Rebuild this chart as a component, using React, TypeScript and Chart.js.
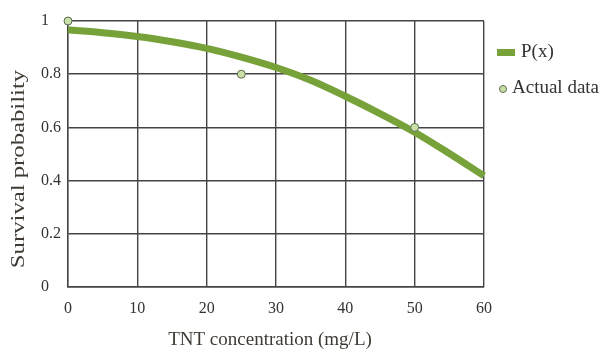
import React, { useEffect, useRef } from "react";
import { Chart, registerables } from "chart.js";

Chart.register(...registerables);

const curveX = [0, 5, 10, 15, 20, 25, 30, 35, 40, 45, 50, 55, 60];
const curveP = [0.967, 0.956, 0.942, 0.922, 0.897, 0.864, 0.825, 0.777, 0.717, 0.652, 0.582, 0.502, 0.418];
const actualX = [0, 25, 50];
const actualY = [1, 0.8, 0.6];
const xTicks = [0, 10, 20, 30, 40, 50, 60];
const yTicks = [0, 0.2, 0.4, 0.6, 0.8, 1];

const GREEN = "#77a23a";
const FONT = "'Liberation Serif', 'Times New Roman', serif";

const legendAndTitlePlugin = {
  id: "customLegend",
  afterDraw(chart: any) {
    const ctx = chart.ctx;
    ctx.save();
    // Legend
    ctx.fillStyle = GREEN;
    ctx.fillRect(497, 49, 18, 7);
    ctx.font = `19px ${FONT}`;
    ctx.fillStyle = "#333";
    ctx.textBaseline = "middle";
    ctx.textAlign = "left";
    ctx.fillText("P(x)", 521, 52);
    ctx.beginPath();
    ctx.arc(503, 89, 3.5, 0, Math.PI * 2);
    ctx.fillStyle = "#c8dfa8";
    ctx.fill();
    ctx.lineWidth = 1;
    ctx.strokeStyle = "#5d6b50";
    ctx.stroke();
    ctx.fillStyle = "#333";
    ctx.fillText("Actual data", 512, 88);
    // X title
    ctx.textAlign = "center";
    ctx.fillStyle = "#3f3a34";
    ctx.fillText("TNT concentration (mg/L)", 270, 340);
    // Y title
    ctx.translate(19, 169);
    ctx.rotate(-Math.PI / 2);
    ctx.scale(1.3, 1);
    ctx.fillText("Survival probability", 0, 0);
    ctx.restore();
  },
};

export default function App() {
  const ref = useRef<HTMLCanvasElement>(null);
  useEffect(() => {
    if (!ref.current) return;
    const chart = new Chart(ref.current, {
      type: "scatter",
      data: {
        datasets: [
          {
            label: "Actual data",
            data: actualX.map((x, i) => ({ x, y: actualY[i] })),
            pointRadius: 4,
            pointBackgroundColor: "#c8dfa8",
            pointBorderColor: "#5d6b50",
            pointBorderWidth: 1,
            showLine: false,
            clip: false,
          },
          {
            label: "P(x)",
            data: curveX.map((x, i) => ({ x, y: curveP[i] })),
            showLine: true,
            borderColor: GREEN,
            borderWidth: 7,
            pointRadius: 0,
            cubicInterpolationMode: "monotone",
            clip: false,
          },
        ],
      },
      options: {
        animation: false,
        responsive: false,
        layout: { padding: { top: 21, right: 116, left: 41, bottom: 0 } },
        plugins: { legend: { display: false }, tooltip: { enabled: false } },
        scales: {
          x: {
            type: "linear",
            min: 0,
            max: 60,
            afterBuildTicks: (s: any) => {
              s.ticks = xTicks.map((v) => ({ value: v }));
            },
            afterFit: (s: any) => {
              s.height = 65;
            },
            grid: { color: "#444", lineWidth: 1.4, drawTicks: false },
            border: { color: "#444", width: 1.4 },
            ticks: { padding: 12, color: "#333", font: { family: FONT, size: 16 } },
          },
          y: {
            type: "linear",
            min: 0,
            max: 1,
            afterBuildTicks: (s: any) => {
              s.ticks = yTicks.map((v) => ({ value: v }));
            },
            afterFit: (s: any) => {
              s.width = 27;
            },
            grid: { color: "#444", lineWidth: 1.4, drawTicks: false },
            border: { color: "#444", width: 1.4 },
            ticks: {
              padding: 6,
              crossAlign: "far",
              color: "#333",
              font: { family: FONT, size: 16 },
              callback: (v: any) => String(Math.round(v * 10) / 10),
            },
          },
        },
      },
      plugins: [legendAndTitlePlugin],
    });
    return () => chart.destroy();
  }, []);
  return (
    <div style={{ position: "fixed", left: 0, top: 0, width: 600, height: 352, background: "#fff" }}>
      <canvas ref={ref} width={600} height={352} style={{ width: 600, height: 352 }} />
    </div>
  );
}
